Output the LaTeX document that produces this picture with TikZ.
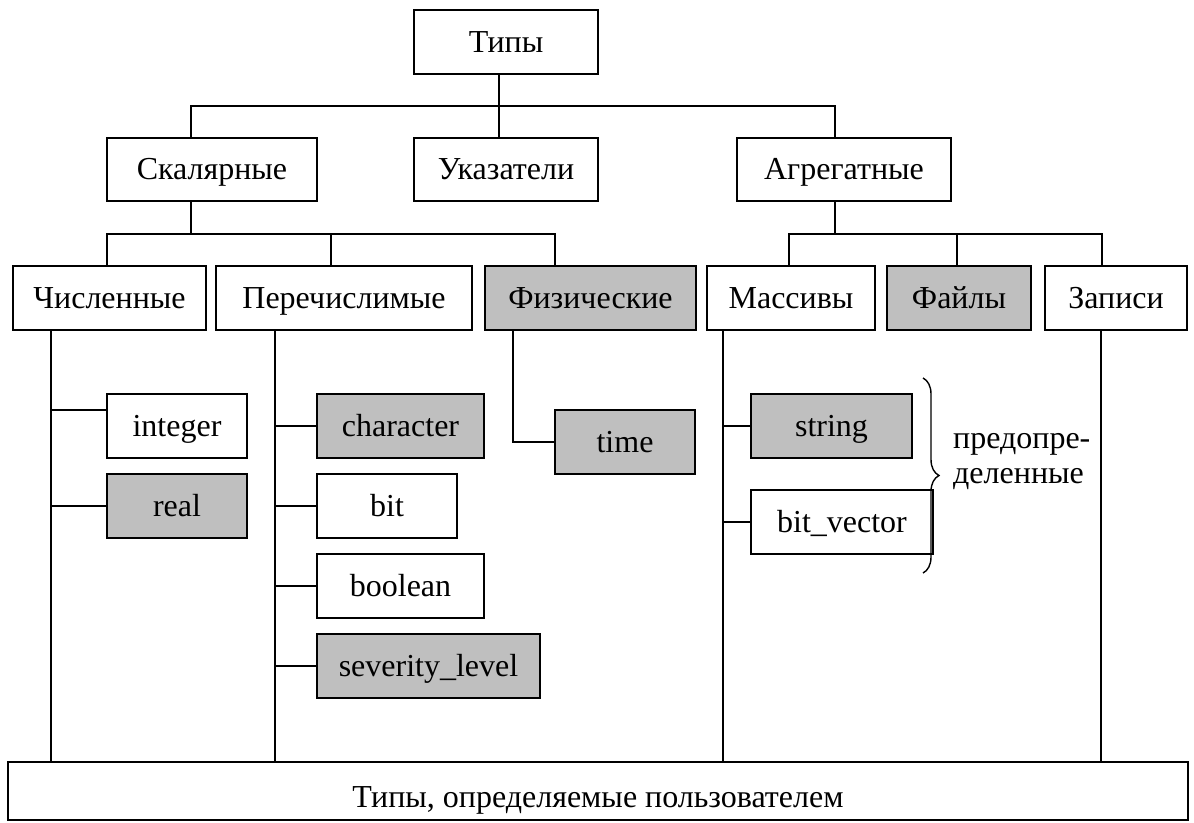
\documentclass[tikz,border=0pt]{standalone}
\usepackage{fontspec}
\setmainfont{Liberation Serif}
\usepackage{tikz}
\usetikzlibrary{positioning, decorations.pathreplacing}

\begin{document}
\begin{tikzpicture}[
    x=1pt, y=-1pt,
    box/.style={rectangle, draw=black, line width=1.8pt, fill=white, minimum height=64pt, inner sep=0pt, text height=24pt, text depth=4pt, font=\fontsize{32}{36}\selectfont},
    graybox/.style={box, fill=black!25},
    link/.style={line width=1.8pt}
]
    \useasboundingbox (0,0) rectangle (1194,822);

    % levels
    \node[box, minimum width=184pt] (types) at (506,42) {Типы};
    \node[box, minimum width=210pt, minimum height=63pt] (scalar) at (212,169.5) {Скалярные};
    \node[box, minimum width=184pt, minimum height=63pt] (pointers) at (506,169.5) {Указатели};
    \node[box, minimum width=214pt, minimum height=63pt] (aggr) at (844,169.5) {Агрегатные};

    \node[box, minimum width=193pt] (numeric) at (109.5,298) {Численные};
    \node[box, minimum width=256pt] (enums) at (344,298) {Перечислимые};
    \node[graybox, minimum width=211pt] (physical) at (590.5,298) {Физические};
    \node[box, minimum width=168pt] (arrays) at (791,298) {Массивы};
    \node[graybox, minimum width=144pt] (files) at (959,298) {Файлы};
    \node[box, minimum width=142pt] (records) at (1116,298) {Записи};

    % leaves
    \node[box, minimum width=140pt] (integer) at (177,426) {integer};
    \node[graybox, minimum width=140pt] (real) at (177,506) {real};
    \node[graybox, minimum width=167pt] (character) at (400.5,426) {character};
    \node[box, minimum width=140pt] (bit) at (387,506) {bit};
    \node[box, minimum width=167pt] (boolean) at (400.5,586) {boolean};
    \node[graybox, minimum width=223pt] (severity) at (428.5,666) {severity\_level};
    \node[graybox, minimum width=140pt] (time) at (625,442) {time};
    \node[graybox, minimum width=161pt] (string) at (831.5,426) {string};
    \node[box, minimum width=182pt] (bitvec) at (842,522) {bit\_vector};

    \node[box, minimum width=1180pt, minimum height=58pt, text height=32pt, text depth=0pt] (user) at (598,791) {Типы, определяемые пользователем};

    % top bus
    \coordinate (t0) at (499,106);
    \coordinate (t1) at (191,106);
    \coordinate (t3) at (835,106);
    \draw[link] (types.south -| t0) -- (t0 |- pointers.north);
    \draw[link] (t1 |- scalar.north) -- (t1) -- (t3) -- (t3 |- aggr.north);

    % scalar bus
    \coordinate (s0) at (191,234);
    \coordinate (s1) at (107,234);
    \coordinate (s2) at (331,234);
    \coordinate (s3) at (555,234);
    \draw[link] (scalar.south -| s0) -- (s0);
    \draw[link] (s1 |- numeric.north) -- (s1) -- (s3) -- (s3 |- physical.north);
    \draw[link] (s2) -- (s2 |- enums.north);

    % aggregate bus
    \coordinate (a0) at (835,234);
    \coordinate (a1) at (789,234);
    \coordinate (a2) at (957,234);
    \coordinate (a3) at (1102,234);
    \draw[link] (aggr.south -| a0) -- (a0);
    \draw[link] (a1 |- arrays.north) -- (a1) -- (a3) -- (a3 |- records.north);
    \draw[link] (a2) -- (a2 |- files.north);

    % trunks
    \coordinate (nt) at (51,0);
    \coordinate (et) at (275,0);
    \coordinate (pt) at (513,0);
    \coordinate (mt) at (723,0);
    \coordinate (rt) at (1101,0);
    \draw[link] (numeric.south -| nt) -- (nt |- user.north);
    \draw[link] ([yshift=16pt]integer.west) -- ++(-56,0);
    \draw[link] (real.west) -- (real.west -| nt);
    \draw[link] (enums.south -| et) -- (et |- user.north);
    \foreach \n in {character, bit, boolean, severity}
        \draw[link] (\n.west) -- (\n.west -| et);
    \draw[link] (physical.south -| pt) -- (pt |- time.west) -- (time.west);
    \draw[link] (arrays.south -| mt) -- (mt |- user.north);
    \draw[link] (string.west) -- (string.west -| mt);
    \draw[link] (bitvec.west) -- (bitvec.west -| mt);
    \draw[link] (records.south -| rt) -- (rt |- user.north);

    % predefined
    \draw[line width=1.4pt, decorate, decoration={brace, amplitude=16pt}] (923,378) -- (923,573);
    \node[font=\fontsize{32}{35}\selectfont, align=left, anchor=west, inner sep=0pt] (predef) at (953,462) {предопре-\\деленные};
\end{tikzpicture}
\end{document}
